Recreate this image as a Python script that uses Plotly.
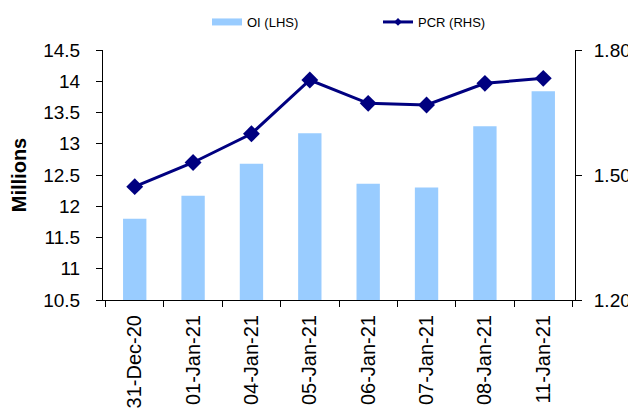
import plotly.graph_objects as go

dates = ["31-Dec-20", "01-Jan-21", "04-Jan-21", "05-Jan-21", "06-Jan-21", "07-Jan-21", "08-Jan-21", "11-Jan-21"]
oi_millions = [11.8, 12.17, 12.68, 13.17, 12.36, 12.3, 13.28, 13.84]
pcr = [1.472, 1.53, 1.599, 1.728, 1.672, 1.668, 1.72, 1.732]

FONT = "Arial, Liberation Sans, sans-serif"
BAR_COLOR = "#99CCFF"
LINE_COLOR = "#000080"

# page body has an 8px default margin, so the figure is sized to fill the rest
OFF = 8
W, H = 636 - OFF, 412 - OFF

fig = go.Figure()
fig.add_trace(go.Bar(
    x=dates, y=oi_millions, name="OI (LHS)",
    marker=dict(color=BAR_COLOR, line=dict(width=0)),
    yaxis="y", showlegend=False,
))
fig.add_trace(go.Scatter(
    x=dates, y=pcr, name="PCR (RHS)", mode="lines+markers",
    line=dict(color=LINE_COLOR, width=3),
    marker=dict(symbol="diamond", size=13, color=LINE_COLOR),
    yaxis="y2", showlegend=False,
))
# legend entries (styled like the reference legend keys)
fig.add_trace(go.Scatter(
    x=[None], y=[None], name="OI (LHS)", mode="lines",
    line=dict(color=BAR_COLOR, width=7), yaxis="y", showlegend=True,
))
fig.add_trace(go.Scatter(
    x=[None], y=[None], name="PCR (RHS)", mode="lines+markers",
    line=dict(color=LINE_COLOR, width=3),
    marker=dict(symbol="diamond", size=6, color=LINE_COLOR),
    yaxis="y2", showlegend=True,
))

fig.update_layout(
    width=W, height=H,
    margin=dict(l=103 - OFF, r=61, t=50 - OFF, b=112, autoexpand=False),
    paper_bgcolor="white", plot_bgcolor="white",
    font=dict(family=FONT, color="black"),
    bargap=0.6,
    showlegend=True,
    legend=dict(orientation="h", xref="container", yref="container",
                x=(207 - OFF) / W, xanchor="left", y=1 - (22 - OFF) / H, yanchor="middle",
                font=dict(size=13, family=FONT), entrywidth=126, entrywidthmode="pixels",
                traceorder="normal", bgcolor="rgba(0,0,0,0)"),
    xaxis=dict(
        type="category", showline=True, linecolor="black", linewidth=1,
        ticks="outside", tickson="boundaries", ticklen=6, tickcolor="black",
        tickangle=-90, tickfont=dict(size=20, family=FONT), showgrid=False,
        automargin=False, ticklabelstandoff=6,
    ),
    yaxis=dict(
        range=[10.5, 14.5], dtick=0.5, tick0=10.5, showline=True, linecolor="black",
        ticks="outside", ticklen=6, tickcolor="black", showgrid=False, zeroline=False,
        tickfont=dict(size=19, family=FONT), automargin=False, ticklabelstandoff=12,
        title=dict(text="<b>Millions</b>", font=dict(size=20, family=FONT), standoff=13),
    ),
    yaxis2=dict(
        range=[1.2, 1.8], dtick=0.3, tick0=1.2, overlaying="y", side="right",
        showline=True, linecolor="black", ticks="outside", ticklen=6, tickcolor="black",
        showgrid=False, zeroline=False, tickformat=".2f", automargin=False,
        ticklabelstandoff=8,
        tickfont=dict(size=19, family=FONT),
    ),
)

fig.write_html("out.html")
